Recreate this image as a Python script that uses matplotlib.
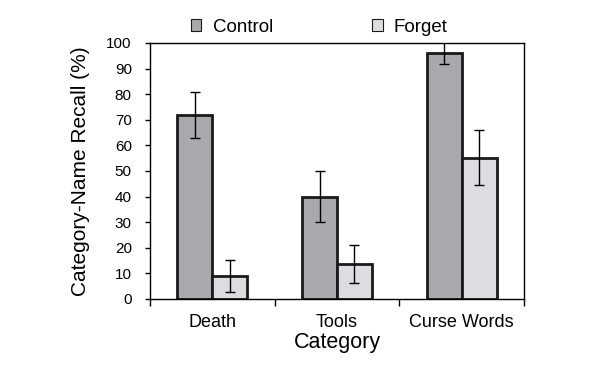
import numpy as np
import matplotlib.pyplot as plt
from matplotlib.patches import Patch
from matplotlib.ticker import FixedLocator

plt.rcParams['font.family'] = ['Liberation Sans', 'DejaVu Sans']

categories = ['Death', 'Tools', 'Curse Words']
series = ['Control', 'Forget']
control = [72, 40, 96.2]
control_err_low = [9, 10, 4.5]
control_err_high = [9, 10, 6]   # top of the last bar is clipped by the axes
forget = [9, 13.7, 55.2]
forget_err = [6.2, 7.5, 10.7]

CONTROL_C = '#a8a9ad'
FORGET_C = '#dcdde0'

fig = plt.figure(figsize=(6, 3.74), dpi=100)
ax = fig.add_axes([150 / 600, 1 - 299 / 374, 374 / 600, 256 / 374])

x = np.arange(len(categories))
w = 0.28
err_kw = dict(ecolor='black', elinewidth=1.0, capsize=3.6, capthick=1.0)
ax.bar(x - w / 2, control, w, color=CONTROL_C, edgecolor='#1a1a1a', linewidth=2,
       yerr=[control_err_low, control_err_high], error_kw=err_kw, zorder=2)
ax.bar(x + w / 2, forget, w, color=FORGET_C, edgecolor='#1a1a1a', linewidth=2,
       yerr=forget_err, error_kw=err_kw, zorder=2)

# --- axes / ticks ---
ax.set_xlim(-0.5, len(categories) - 0.5)
ax.set_ylim(0, 100)
ax.set_yticks(range(0, 101, 10))
ax.set_xticks(x)
ax.set_xticklabels(categories, fontsize=13)
ax.tick_params(axis='x', which='major', length=0, pad=10.5)
ax.xaxis.set_minor_locator(FixedLocator(np.arange(-0.5, len(categories), 1.0)))
ax.tick_params(axis='x', which='minor', length=5, width=1)
ax.tick_params(axis='y', labelsize=11, length=3.6, width=1, pad=9.5)
for s in ax.spines.values():
    s.set_linewidth(1.0)

ax.set_xlabel('Category', fontsize=15.5, labelpad=1)
ax.set_ylabel('Category-Name Recall (%)', fontsize=15, labelpad=12)

# --- legend above the plot ---
handles = [Patch(facecolor=CONTROL_C, edgecolor='#1a1a1a', linewidth=0.8),
           Patch(facecolor=FORGET_C, edgecolor='#1a1a1a', linewidth=0.8)]
fig.legend(handles, series, loc='center left', bbox_to_anchor=(191 / 600, 1 - 27 / 374),
           ncol=2, frameon=False, fontsize=13.5, columnspacing=5.3,
           handlelength=0.55, handleheight=0.55, handletextpad=0.6,
           borderpad=0, borderaxespad=0)

fig.savefig('out.png', dpi=100)
